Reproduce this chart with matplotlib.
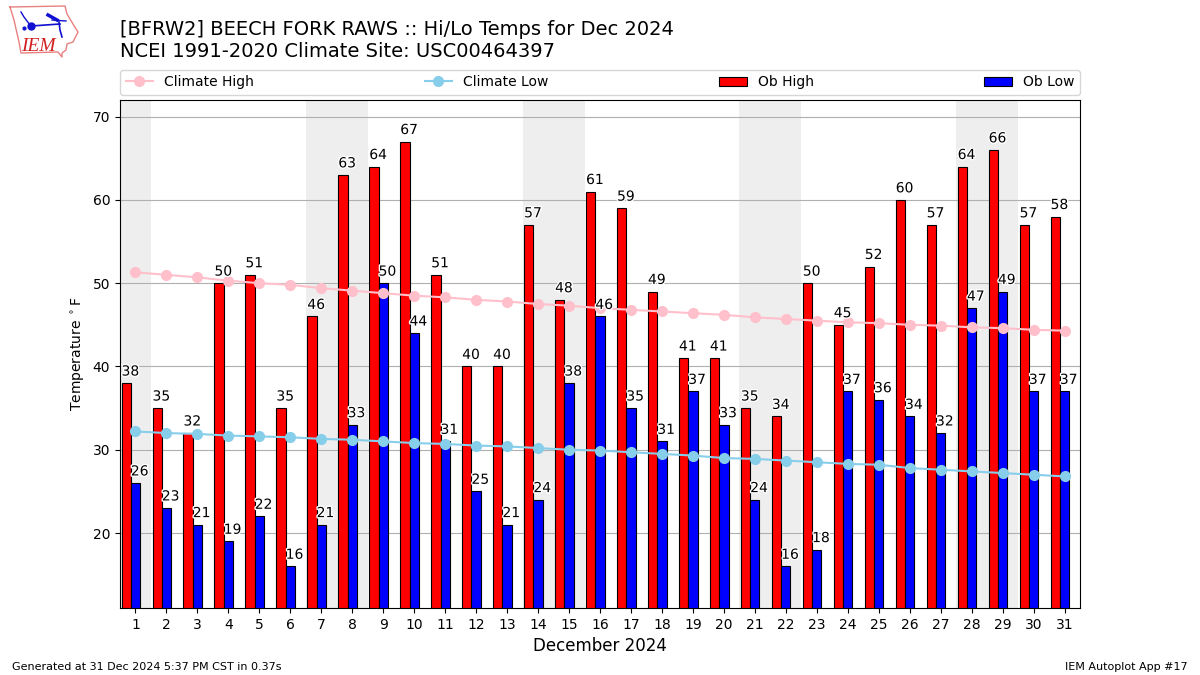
# Daily high and low temperatures against climatology, autoplot style
import numpy as np
import matplotlib
matplotlib.use("Agg")
import matplotlib.pyplot as plt
import matplotlib.patheffects as pe

# Values
days = list(range(1, 32))
ob_high = [38, 35, 32, 50, 51, 35, 46, 63, 64, 67, 51, 40, 40, 57, 48, 61,
           59, 49, 41, 41, 35, 34, 50, 45, 52, 60, 57, 64, 66, 57, 58]
ob_low = [26, 23, 21, 19, 22, 16, 21, 33, 50, 44, 31, 25, 21, 24, 38, 46,
          35, 31, 37, 33, 24, 16, 18, 37, 36, 34, 32, 47, 49, 37, 37]
climate_high = [51.3, 51.0, 50.7, 50.3, 50.0, 49.8, 49.4, 49.1, 48.8, 48.5, 48.3,
                48.0, 47.8, 47.5, 47.3, 47.0, 46.8, 46.6, 46.4, 46.2, 45.9,
                45.7, 45.5, 45.3, 45.2, 45.0, 44.9, 44.7, 44.6, 44.4, 44.3]
climate_low = [32.2, 32.0, 31.9, 31.7, 31.6, 31.5, 31.3, 31.2, 31.0, 30.8, 30.7,
               30.5, 30.4, 30.2, 30.0, 29.9, 29.7, 29.5, 29.3, 29.0, 28.9,
               28.7, 28.5, 28.3, 28.2, 27.8, 27.6, 27.4, 27.2, 27.0, 26.8]
weekends = [(0.5, 1.5), (6.5, 8.5), (13.5, 15.5), (20.5, 22.5), (27.5, 29.5)]
iowa_x = [10, 65, 67, 73, 78, 73, 67, 66, 62, 62, 58, 21, 19, 14, 10]
iowa_y = [7, 6, 14, 24, 32, 42, 44, 50, 53, 57, 52, 53, 42, 20, 7]

x = np.array(days)
width = 0.3

fig = plt.figure(figsize=(12, 6.75), dpi=100)
ax = fig.add_axes([0.1, 0.0993, 0.8, 0.7526])

# Weekend shading
for start, end in weekends:
    ax.axvspan(start, end, color="#eeeeee", lw=0, zorder=0)

ax.bar(x - width, ob_high, width, color="red", edgecolor="black", lw=0.8,
       label="Ob High", zorder=2)
ax.bar(x, ob_low, width, color="blue", edgecolor="black", lw=0.8,
       label="Ob Low", zorder=2)
ax.plot(x, climate_high, color="pink", marker="o", ms=7, lw=1.5,
        label="Climate High", zorder=3)
ax.plot(x, climate_low, color="skyblue", marker="o", ms=7, lw=1.5,
        label="Climate Low", zorder=3)

# Value labels with a white halo
halo = [pe.withStroke(linewidth=2, foreground="white")]
for day, hi, lo in zip(x, ob_high, ob_low):
    ax.text(day - 1.5 * width, hi + 0.55, str(hi), ha="left", va="bottom",
            fontsize=10, path_effects=halo, zorder=4)
    ax.text(day - 0.5 * width, lo + 0.55, str(lo), ha="left", va="bottom",
            fontsize=10, path_effects=halo, zorder=4)

ax.set_xlim(0.5, 31.5)
ax.set_ylim(11, 72)
ax.set_xticks(days)
ax.set_yticks([20, 30, 40, 50, 60, 70])
ax.yaxis.grid(True, color="#b0b0b0", lw=0.8)
ax.set_axisbelow(True)
ax.set_xlabel("December 2024", fontsize=12)
ax.set_ylabel(r"Temperature $^\circ$F")

handles, labels = ax.get_legend_handles_labels()
order = [labels.index(n) for n in ["Climate High", "Climate Low", "Ob High", "Ob Low"]]
ax.legend([handles[i] for i in order], [labels[i] for i in order], ncol=4,
          mode="expand", loc="lower left", bbox_to_anchor=(0, 1.01, 1, 0.05),
          borderaxespad=0, fontsize=10)

fig.text(0.1, 0.9096, "[BFRW2] BEECH FORK RAWS :: Hi/Lo Temps for Dec 2024\n"
         "NCEI 1991-2020 Climate Site: USC00464397", fontsize=14, va="bottom",
         linespacing=1.2)
fig.text(0.01, 0.0075, "Generated at 31 Dec 2024 5:37 PM CST in 0.37s", fontsize=8)
fig.text(0.99, 0.0075, "IEM Autoplot App #17", fontsize=8, ha="right")

# Small logo drawn in pixel coordinates
logo = fig.add_axes([0, 0, 1, 1], facecolor="none")
logo.set_xlim(0, 1200)
logo.set_ylim(675, 0)
logo.axis("off")
logo.plot(iowa_x, iowa_y, color="#e88080", lw=1)
logo.plot([31, 60], [26, 24], color="#1010d0", lw=1.2)
logo.plot([31], [26], color="#1010d0", marker="o", ms=5)
logo.plot([21, 24, 30], [12, 17, 25], color="#1010d0", lw=1)
logo.plot([48, 57], [15, 20], color="#1010d0", lw=2.5)
logo.plot([52, 66], [20, 21], color="#1010d0", lw=1)
logo.plot([59, 60, 62], [22, 30, 37], color="#1010d0", lw=1.2)
logo.plot([24], [28], color="#1010d0", marker="o", ms=2)
logo.text(21, 51, "IEM", color="#d02020", fontsize=14, family="Liberation Serif",
          style="italic")

fig.savefig("out.png", dpi=100)
